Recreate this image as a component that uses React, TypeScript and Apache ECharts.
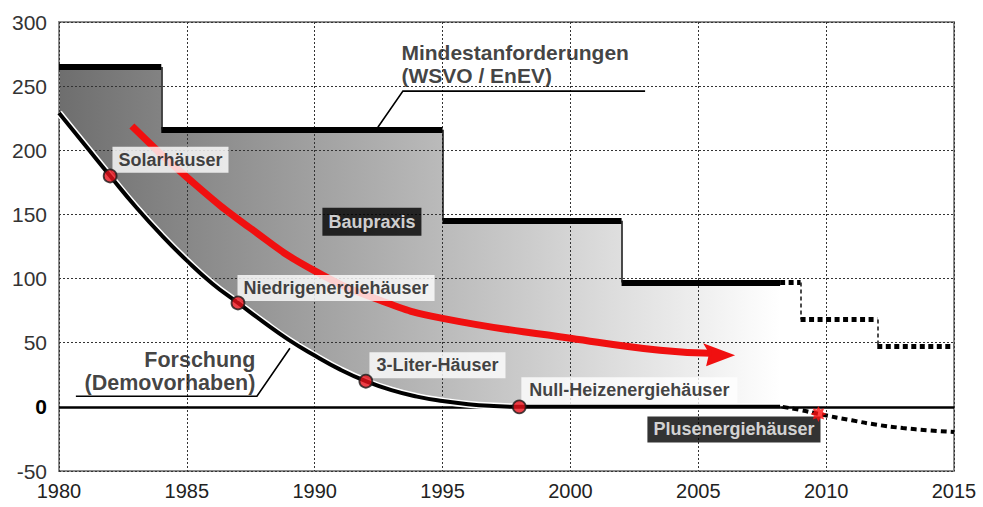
import React, { useEffect, useRef } from "react";
import * as echarts from "echarts";

// ---- data ----
const xTickMin = 1980;
const xTickMax = 2015;
const yTickMin = -50;
const yTickMax = 300;

// Mindestanforderungen (WSVO / EnEV) step line
const minStandardSteps: number[][] = [
  [1980, 265], [1984, 265], [1984, 216], [1995, 216],
  [1995, 145], [2002, 145], [2002, 97], [2008.2, 97],
];
const minStandardProjected: number[][] = [
  [2008.2, 97], [2009, 97], [2009, 68], [2012, 68], [2012, 47], [2015, 47],
];

// Forschung (Demovorhaben) curve
const researchCurve: number[][] = [
  [1980, 229], [1981, 204.5], [1982, 180], [1983, 156], [1984, 134],
  [1985, 114], [1986, 96], [1987, 81], [1988, 66], [1989, 52],
  [1990, 40], [1991, 29], [1992, 20], [1993, 13], [1994, 8],
  [1995, 4.5], [1996, 2], [1997, 0.6], [1998, 0], [2008.2, 0],
];
const researchProjected: number[][] = [
  [2008.3, 0], [2009, -2.5], [2009.7, -5.5], [2011, -10.5],
  [2012, -14], [2013, -16.5], [2014, -18.3], [2015, -19.6],
];

// Baupraxis trend arrow
const practiceTrend: number[][] = [
  [1982.85, 219], [1985, 179], [1987.5, 139], [1990, 106], [1992.7, 82],
  [1995, 69], [2000, 53.5], [2003.5, 44.1], [2005.5, 41.8],
];
const practiceArrowTip: number[] = [2006.44, 40.2];

const zeroLine: number[][] = [[1980, 0], [2015, 0]];

const milestones = [
  { name: "Solarhäuser", x: 1982, y: 180 },
  { name: "Niedrigenergiehäuser", x: 1987, y: 81 },
  { name: "3-Liter-Häuser", x: 1992, y: 20 },
  { name: "Null-Heizenergiehäuser", x: 1998, y: 0 },
];
const plusMilestone: number[] = [2009.7, -5.5];

// label anchors [x, y] in data units
const labelSolar = { text: "Solarhäuser", at: [1982.11, 192.3] };
const labelNiedrig = { text: "Niedrigenergiehäuser", at: [1987.0, 92.3] };
const label3L = { text: "3-Liter-Häuser", at: [1992.16, 32.1] };
const labelNull = { text: "Null-Heizenergiehäuser", at: [1998.1, 12.6] };
const labelPlus = { text: "Plusenergiehäuser", at: [2003.03, -18] };
const labelBau = { text: "Baupraxis", at: [1990.32, 144] };
const labelMin = { text: "Mindestanforderungen\n(WSVO / EnEV)", at: [1993.41, 267.2] };
const labelRes = { text: "Forschung\n(Demovorhaben)", at: [1987.7, 27.2] };

const leaderMin: number[][] = [[2002.92, 246.1], [1993.45, 246.1], [1992.47, 218]];
const leaderRes: number[][] = [[1980.66, 8.3], [1987.74, 8.3], [1989.03, 45.7]];

const FONT = "'Liberation Sans', Arial, Helvetica, sans-serif";

function segments(points: number[][], horizontal: boolean) {
  const out: { coords: number[][] }[] = [];
  for (let i = 0; i < points.length - 1; i++) {
    const a = points[i];
    const b = points[i + 1];
    const isH = a[1] === b[1];
    if (isH === horizontal) out.push({ coords: [a, b] });
  }
  return out;
}

function annotation(
  item: { text: string; at: number[] },
  opts: Record<string, unknown>
) {
  return {
    value: item.at,
    label: {
      show: true,
      formatter: item.text,
      position: [0, 0],
      align: "left",
      verticalAlign: "middle",
      fontFamily: FONT,
      fontWeight: "bold",
      color: "#111",
      fontSize: 18,
      ...opts,
    },
  };
}

export default function App() {
  const ref = useRef<HTMLDivElement>(null);

  useEffect(() => {
    if (!ref.current) return;
    const chart = echarts.init(ref.current, undefined, { renderer: "svg" });

    const fillPolygon = [
      ...minStandardSteps,
      [minStandardSteps[minStandardSteps.length - 1][0], 0],
      ...researchCurve.slice().reverse(),
    ];

    const starPath =
      "path://M0,-10 L2.3,-5.5 L7.1,-7.1 L5.5,-2.3 L10,0 L5.5,2.3 L7.1,7.1 L2.3,5.5 L0,10 L-2.3,5.5 L-7.1,7.1 L-5.5,2.3 L-10,0 L-5.5,-2.3 L-7.1,-7.1 L-2.3,-5.5 Z";

    const gridLine = { show: true, lineStyle: { color: "#333", width: 1, type: [2, 2] } };

    chart.setOption({
      animation: false,
      backgroundColor: "#ffffff",
      grid: {
        left: 59,
        right: 29,
        top: 22,
        bottom: 36,
        show: true,
        borderColor: "#8c8c8c",
        borderWidth: 2,
      },
      xAxis: {
        type: "value",
        min: xTickMin,
        max: xTickMax,
        interval: 5,
        axisLine: { show: false, onZero: false },
        axisTick: { show: false },
        axisLabel: {
          fontSize: 20,
          color: "#222",
          margin: 10,
          fontFamily: FONT,
          formatter: (v: number) => String(v),
        },
        splitLine: gridLine,
      },
      yAxis: {
        type: "value",
        min: yTickMin,
        max: yTickMax,
        interval: 50,
        axisLine: { show: false },
        axisTick: { show: false },
        axisLabel: {
          fontSize: 21,
          color: "#333",
          margin: 12,
          fontFamily: FONT,
          formatter: (v: number) => (v === 0 ? "{b|0}" : String(v)),
          rich: { b: { fontSize: 21, fontWeight: "bold", color: "#000", fontFamily: FONT } },
        },
        splitLine: gridLine,
      },
      series: [
        {
          type: "custom",
          name: "fill",
          z: -1,
          silent: true,
          data: [[1980, 0]],
          renderItem: (_p: unknown, api: any) => {
            const pts = fillPolygon.map((p) => api.coord(p));
            return {
              type: "polygon",
              shape: { points: pts },
              style: {
                fill: new echarts.graphic.LinearGradient(0, 0, 1, 0, [
                  { offset: 0, color: "#6e6e6e" },
                  { offset: 0.55, color: "#bdbdbd" },
                  { offset: 1, color: "#ffffff" },
                ]),
              },
            };
          },
        },
        {
          type: "lines",
          coordinateSystem: "cartesian2d",
          z: 3,
          data: [{ coords: zeroLine }],
          lineStyle: { color: "#000", width: 2.5, opacity: 1 },
        },
        {
          type: "lines",
          coordinateSystem: "cartesian2d",
          z: 4,
          data: segments(minStandardSteps, true),
          lineStyle: { color: "#000", width: 6, opacity: 1 },
        },
        {
          type: "lines",
          coordinateSystem: "cartesian2d",
          z: 4,
          data: segments(minStandardSteps, false),
          lineStyle: { color: "#111", width: 1.5, opacity: 1 },
        },
        {
          type: "lines",
          coordinateSystem: "cartesian2d",
          z: 4,
          data: segments(minStandardProjected, true),
          lineStyle: { color: "#000", width: 5, opacity: 1, type: [5, 3.5] },
        },
        {
          type: "lines",
          coordinateSystem: "cartesian2d",
          z: 4,
          data: segments(minStandardProjected, false),
          lineStyle: { color: "#111", width: 1.5, opacity: 1, type: [4, 3] },
        },
        {
          type: "line",
          z: 4,
          data: researchCurve,
          smooth: 0.5,
          symbol: "none",
          lineStyle: { color: "#ffffff", width: 7 },
        },
        {
          type: "line",
          z: 5,
          data: researchCurve,
          smooth: 0.5,
          symbol: "none",
          lineStyle: { color: "#000", width: 4 },
        },
        {
          type: "line",
          z: 5,
          data: researchProjected,
          smooth: 0.5,
          symbol: "none",
          lineStyle: { color: "#000", width: 4, type: [6, 4] },
        },
        {
          type: "line",
          z: 6,
          data: practiceTrend,
          smooth: 0.5,
          symbol: "none",
          lineStyle: { color: "#f01010", width: 7, cap: "butt" },
        },
        {
          type: "custom",
          z: 6,
          data: [practiceArrowTip],
          renderItem: (_p: unknown, api: any) => {
            const t = api.coord([api.value(0), api.value(1)]);
            return {
              type: "polygon",
              shape: {
                points: [
                  [t[0], t[1]],
                  [t[0] - 32, t[1] - 12],
                  [t[0] - 26, t[1] - 2],
                  [t[0] - 29, t[1] + 11],
                ],
              },
              style: { fill: "#f01010" },
            };
          },
        },
        {
          type: "lines",
          coordinateSystem: "cartesian2d",
          polyline: true,
          z: 6,
          data: [{ coords: leaderMin }, { coords: leaderRes }],
          lineStyle: { color: "#000", width: 1.6, opacity: 1 },
        },
        {
          type: "scatter",
          z: 8,
          symbol: "circle",
          symbolSize: 13,
          data: milestones.map((m) => [m.x, m.y]),
          itemStyle: { color: "#e8101a", borderColor: "#1a1a1a", borderWidth: 1.8 },
        },
        {
          type: "scatter",
          z: 8,
          symbol: starPath,
          symbolSize: 16,
          data: [plusMilestone],
          itemStyle: { color: "#ff1010" },
        },
        {
          type: "scatter",
          z: 7,
          symbolSize: 1,
          itemStyle: { color: "rgba(0,0,0,0)" },
          data: [
            annotation(labelSolar, { backgroundColor: "#fff", padding: [4, 6, 4, 6] }),
            annotation(labelNiedrig, { backgroundColor: "#fff", padding: [4, 6, 4, 6] }),
            annotation(label3L, { backgroundColor: "#fff", padding: [4, 7, 4, 7] }),
            annotation(labelNull, { backgroundColor: "#fff", padding: [4, 8, 4, 8] }),
            annotation(labelPlus, {
              backgroundColor: "#000",
              color: "#fff",
              padding: [4, 6, 4, 6],
            }),
            annotation(labelBau, {
              backgroundColor: "#000",
              color: "#fff",
              padding: [5, 6, 5, 6],
            }),
            annotation(labelMin, { fontSize: 21, lineHeight: 23 }),
            annotation(labelRes, { fontSize: 21.5, lineHeight: 23.5, align: "right" }),
          ],
        },
      ],
    });

    return () => chart.dispose();
  }, []);

  return (
    <div
      ref={ref}
      style={{ position: "fixed", left: 0, top: 0, width: 983, height: 507, background: "#fff" }}
    />
  );
}
